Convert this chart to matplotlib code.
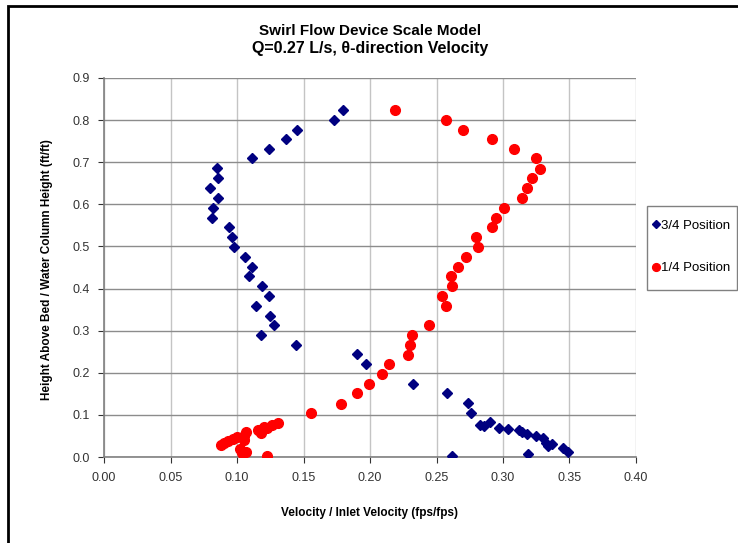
import matplotlib.pyplot as plt
from matplotlib.patches import Rectangle

plt.rcParams['font.family'] = ['Liberation Sans', 'DejaVu Sans']

# 3/4 position (navy diamonds)
x34 = [0.180, 0.173, 0.145, 0.137, 0.124, 0.111, 0.085, 0.086, 0.080, 0.086,
       0.082, 0.081, 0.094, 0.096, 0.098, 0.106, 0.111, 0.109, 0.119, 0.124,
       0.114, 0.125, 0.128, 0.118, 0.144, 0.190, 0.197, 0.232, 0.258, 0.274,
       0.276, 0.283, 0.286, 0.290, 0.297, 0.3035, 0.312, 0.314, 0.318, 0.325,
       0.330, 0.332, 0.334, 0.337, 0.345, 0.349, 0.262, 0.319]
y34 = [0.824, 0.800, 0.777, 0.755, 0.731, 0.709, 0.686, 0.662, 0.638, 0.614,
       0.591, 0.568, 0.545, 0.522, 0.498, 0.475, 0.452, 0.429, 0.406, 0.382,
       0.359, 0.336, 0.313, 0.290, 0.266, 0.244, 0.221, 0.174, 0.151, 0.128,
       0.104, 0.077, 0.073, 0.082, 0.070, 0.066, 0.063, 0.060, 0.055, 0.050,
       0.044, 0.034, 0.026, 0.032, 0.021, 0.013, 0.003, 0.007]

# 1/4 position (red circles)
x14 = [0.2185, 0.257, 0.270, 0.292, 0.3085, 0.3246, 0.328, 0.3216, 0.318,
       0.314, 0.301, 0.295, 0.292, 0.280, 0.2815, 0.272, 0.2664, 0.2607,
       0.2614, 0.2544, 0.2571, 0.2446, 0.2318, 0.230, 0.2283, 0.214, 0.2093,
       0.199, 0.1905, 0.178, 0.156, 0.131, 0.126, 0.1228, 0.120, 0.118, 0.116,
       0.107, 0.105, 0.100, 0.097, 0.093, 0.090, 0.0877, 0.105, 0.102,
       0.1035, 0.107, 0.1228]
y14 = [0.823, 0.800, 0.777, 0.755, 0.731, 0.709, 0.685, 0.662, 0.638, 0.614,
       0.591, 0.568, 0.545, 0.522, 0.498, 0.475, 0.452, 0.429, 0.405, 0.382,
       0.359, 0.313, 0.290, 0.266, 0.243, 0.220, 0.197, 0.174, 0.151, 0.127,
       0.104, 0.081, 0.076, 0.068, 0.072, 0.056, 0.064, 0.060, 0.051, 0.048,
       0.043, 0.039, 0.034, 0.029, 0.040, 0.019, 0.009, 0.013, 0.003]

xticks = [0.00, 0.05, 0.10, 0.15, 0.20, 0.25, 0.30, 0.35, 0.40]
yticks = [0.0, 0.1, 0.2, 0.3, 0.4, 0.5, 0.6, 0.7, 0.8, 0.9]

W, H = 738, 543
fig = plt.figure(figsize=(W / 100, H / 100), dpi=100)
ax = fig.add_axes([104 / W, 1 - 457 / H, (636 - 104) / W, (457 - 78) / H])

ax.plot(x34, y34, linestyle='none', marker='D', markersize=5.4,
        color='#000080', label='3/4 Position', zorder=3)
ax.plot(x14, y14, linestyle='none', marker='o', markersize=7.0,
        color='#ff0000', label='1/4 Position', zorder=3)

ax.set_xlim(0, 0.4)
ax.set_ylim(0, 0.9)
ax.set_xticks(xticks)
ax.set_yticks(yticks)
ax.set_xticklabels(['%.2f' % v for v in xticks])
ax.set_yticklabels(['%.1f' % v for v in yticks])
ax.tick_params(labelsize=9, colors='#333333', length=4, direction='out')
ax.tick_params(axis='y', pad=6)
ax.tick_params(axis='x', pad=7)

ax.grid(True, axis='y', color='#8c8c8c', linewidth=1.0)
ax.grid(True, axis='x', color='#c4c4c4', linewidth=1.0)
ax.set_axisbelow(True)
for side in ['top', 'right']:
    ax.spines[side].set_visible(False)
for side in ['left', 'bottom']:
    ax.spines[side].set_color('#808080')
    ax.spines[side].set_linewidth(1.2)

fig.text(370 / W, 1 - 31 / H, 'Swirl Flow Device Scale Model',
         ha='center', va='center', fontsize=11, fontweight='bold')
fig.text(370 / W, 1 - 49 / H, 'Q=0.27 L/s, θ-direction Velocity',
         ha='center', va='center', fontsize=11.5, fontweight='bold')
fig.text(370 / W, 1 - 513 / H, 'Velocity / Inlet Velocity (fps/fps)',
         ha='center', va='center', fontsize=8.5, fontweight='bold')
fig.text(47 / W, 1 - 270 / H, 'Height Above Bed / Water Column Height (ft/ft)',
         ha='center', va='center', rotation=90, fontsize=8.5, fontweight='bold')

# legend entries without frame; box drawn separately to get the Excel padding
fig.legend(loc='center left', bbox_to_anchor=(647 / W, 1 - 247 / H),
           fontsize=9.5, frameon=False, handlelength=0.4,
           handletextpad=0.2, labelspacing=2.27, borderpad=0.45,
           markerscale=0.8, borderaxespad=0)
fig.patches.append(Rectangle((647 / W, 1 - 290 / H), 90 / W, 84 / H,
                             transform=fig.transFigure, fill=False,
                             edgecolor='#808080', linewidth=1.0))

fig.patches.append(Rectangle((8 / W, -0.05), 1.0, 1 - 6 / H + 0.05,
                             transform=fig.transFigure, fill=False,
                             edgecolor='black', linewidth=2.0))

fig.savefig('out.png', dpi=100)
